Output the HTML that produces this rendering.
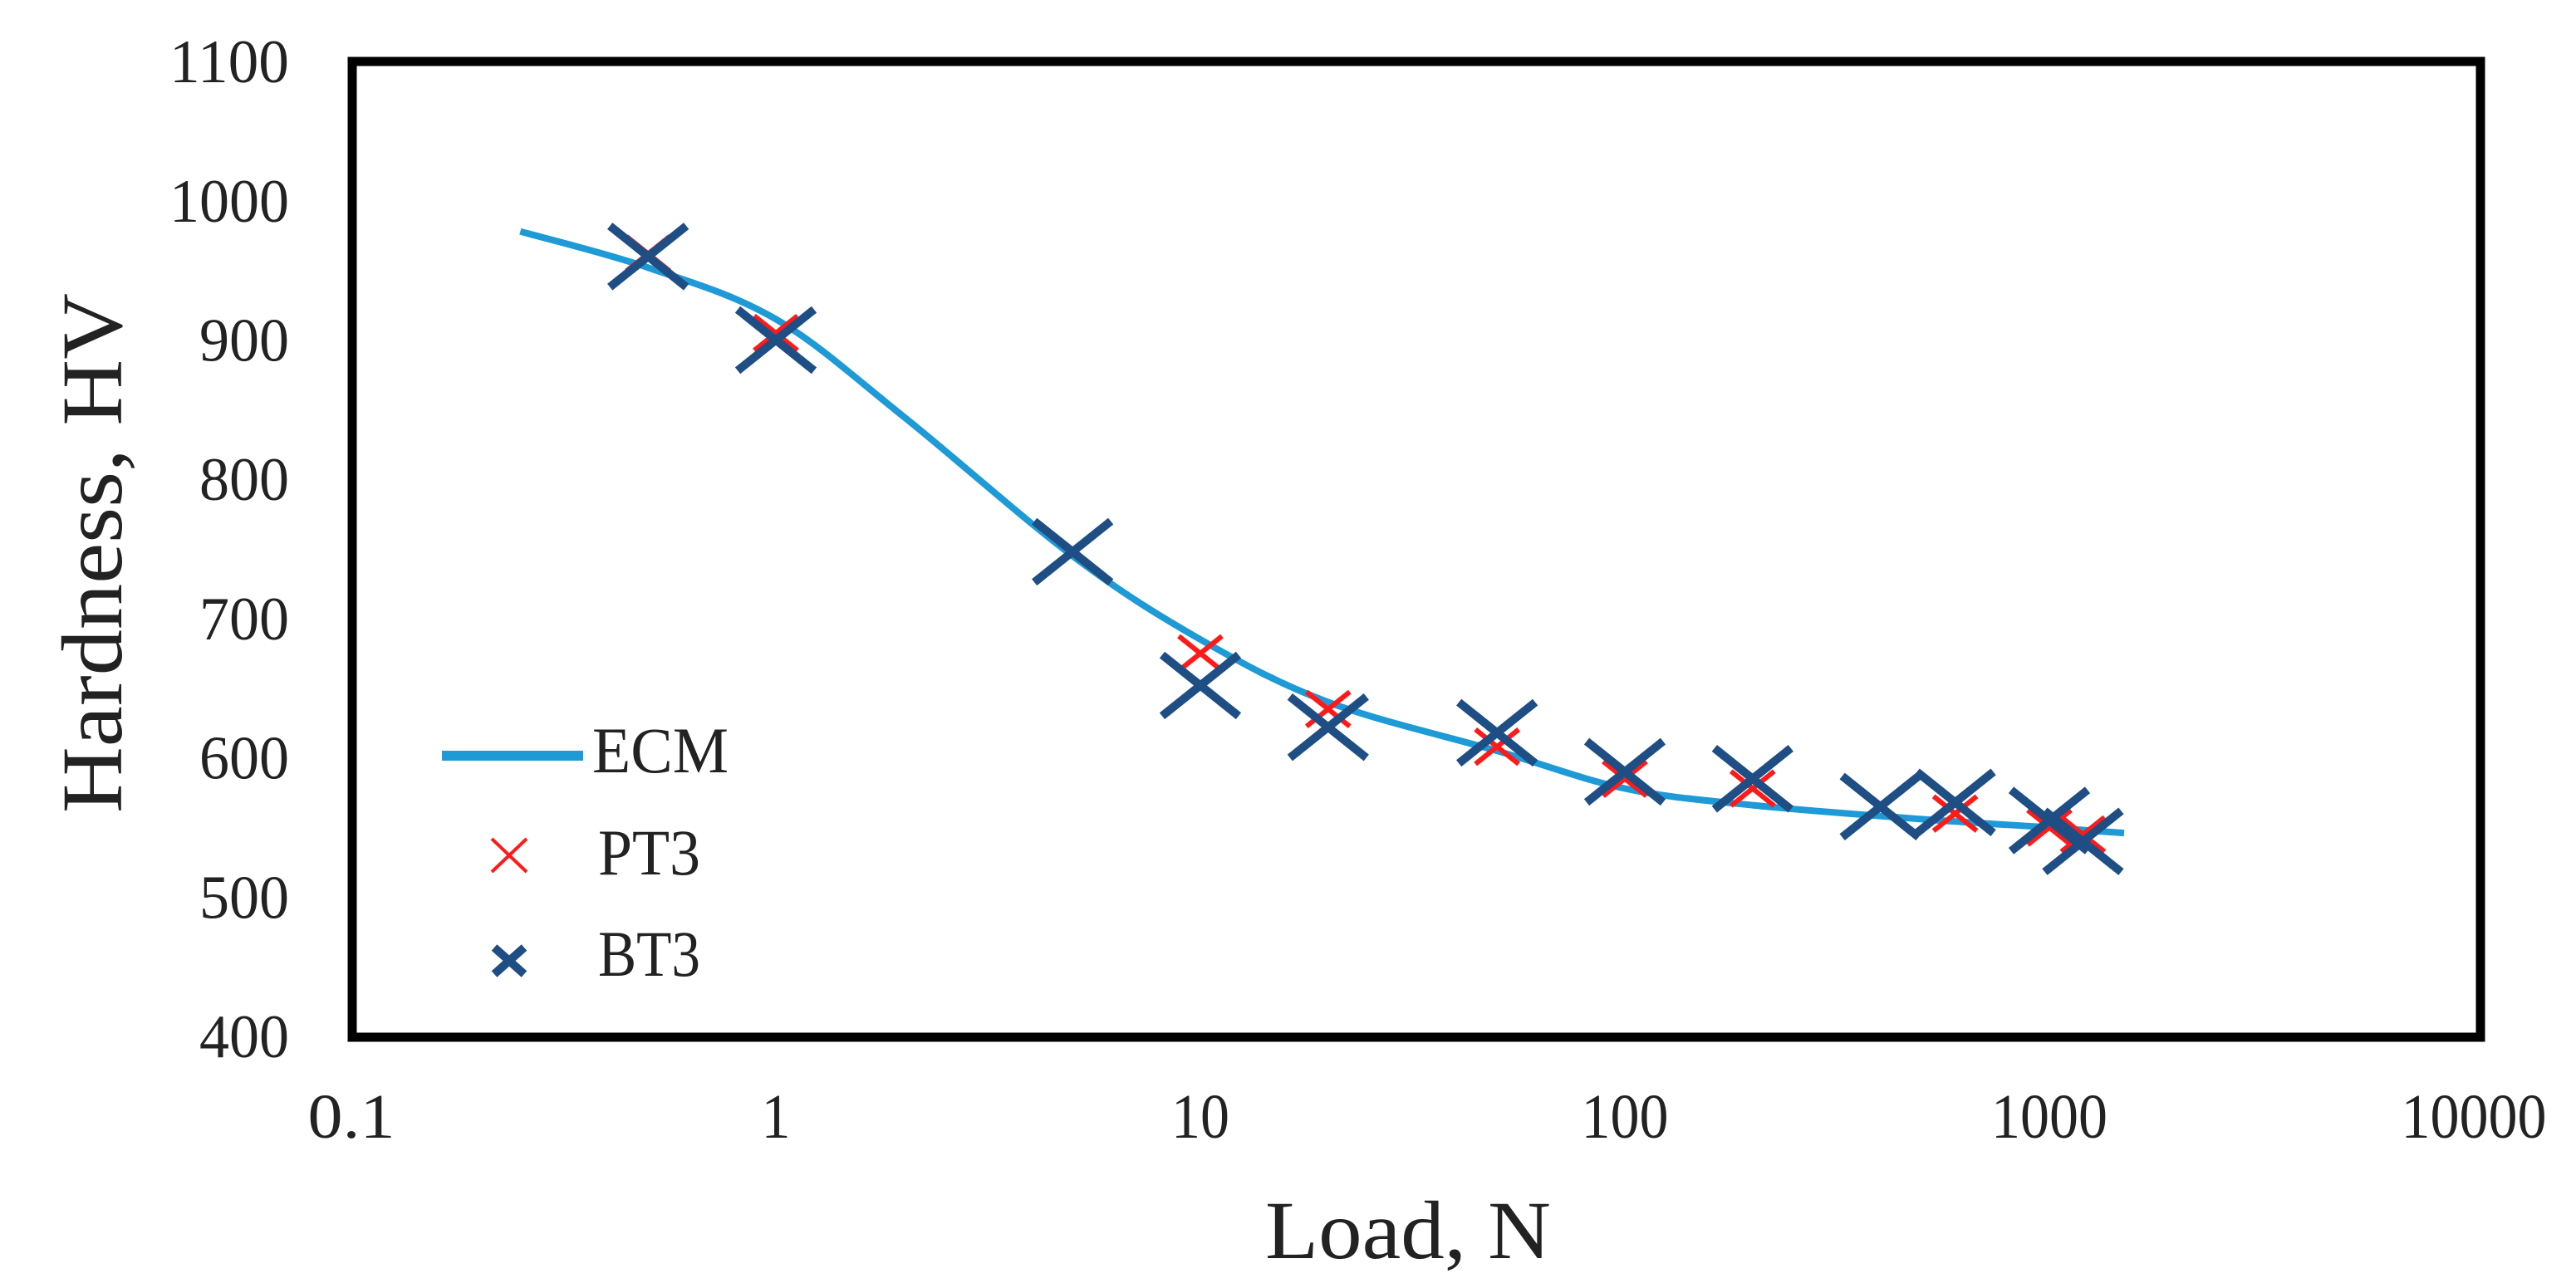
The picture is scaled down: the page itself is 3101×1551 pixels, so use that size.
<!DOCTYPE html>
<html><head><meta charset="utf-8"><style>
html,body{margin:0;padding:0;background:#fff;}
svg text{font-family:"Liberation Serif",serif;fill:#222;}
</style></head><body>
<svg id="chart" width="3101" height="1546" viewBox="0 0 3101 1546" xmlns="http://www.w3.org/2000/svg">
<g id="ticks"></g>
<g id="series"></g>
<rect x="424" y="74" width="2562" height="1175" fill="none" stroke="#000" stroke-width="11"/>
<text x="110" y="666" font-size="104" text-anchor="middle" textLength="626" lengthAdjust="spacingAndGlyphs" transform="rotate(-90 110 666)" dy="36">Hardness, HV</text>
<text x="1523" y="1515" font-size="100" textLength="344" lengthAdjust="spacingAndGlyphs">Load, N</text>
<g>
<line x1="532" y1="910" x2="702" y2="910" stroke="#1e9ad6" stroke-width="12"/>
<text x="713" y="930" font-size="78" textLength="164" lengthAdjust="spacingAndGlyphs">ECM</text>
<path d="M592 1010 L634 1050 M634 1010 L592 1050" stroke="#ff1a1a" stroke-width="4"/>
<text x="720" y="1053" font-size="78" textLength="123" lengthAdjust="spacingAndGlyphs">PT3</text>
<path d="M595 1141 L631 1173 M631 1141 L595 1173" stroke="#1f4e85" stroke-width="10"/>
<text x="720" y="1175" font-size="78" textLength="123" lengthAdjust="spacingAndGlyphs">BT3</text>
</g>
</svg>
<script>
const xTicks=[0.1,1,10,100,1000,10000];
const xTickLabels=["0.1","1","10","100","1000","10000"];
const yTicks=[400,500,600,700,800,900,1000,1100];
const ecmX=[0.25,0.5,1,2,5,10,20,50,100,200,500,1000,1500];
const ecmY=[978,952,915,845,745,685,640,605,578,566,556,550,546];
const pt3X=[0.5,1,5,10,20,50,100,200,400,600,1000,1200];
const pt3Y=[962,905,748,675,635,608,585,578,565,560,550,545];
const bt3X=[0.5,1,5,10,20,50,100,200,400,600,1000,1200];
const bt3Y=[960,900,748,652,622,618,590,585,565,568,555,540];
const NS="http://www.w3.org/2000/svg";
const X=v=>423+(Math.log10(v)+1)*511;
const Y=v=>1248-(v-400)*1.677;
const tg=document.getElementById('ticks'), sg=document.getElementById('series');
xTicks.forEach((t,i)=>{const e=document.createElementNS(NS,'text');
e.setAttribute('x',X(t));e.setAttribute('y',1370);e.setAttribute('font-size','76');e.setAttribute('text-anchor','middle');
e.setAttribute('textLength',String(xTickLabels[i].length*35));e.setAttribute('lengthAdjust','spacingAndGlyphs');


e.textContent=xTickLabels[i];tg.appendChild(e);});
yTicks.forEach(t=>{const e=document.createElementNS(NS,'text');
e.setAttribute('x',348);e.setAttribute('y',Y(t)+25);e.setAttribute('font-size','74');e.setAttribute('text-anchor','end');
e.setAttribute('textLength',String(String(t).length*36));e.setAttribute('lengthAdjust','spacingAndGlyphs');


e.textContent=t;tg.appendChild(e);});
const pts=ecmX.map((x,i)=>[X(x),Y(ecmY[i])]);
let d='M'+pts[0][0]+' '+pts[0][1];
for(let i=0;i<pts.length-1;i++){const p0=pts[Math.max(i-1,0)],p1=pts[i],p2=pts[i+1],p3=pts[Math.min(i+2,pts.length-1)];
d+=` C${p1[0]+(p2[0]-p0[0])/6} ${p1[1]+(p2[1]-p0[1])/6} ${p2[0]-(p3[0]-p1[0])/6} ${p2[1]-(p3[1]-p1[1])/6} ${p2[0]} ${p2[1]}`;}
const line=document.createElementNS(NS,'path');
line.setAttribute('d',d);line.setAttribute('fill','none');line.setAttribute('stroke','#1e9ad6');line.setAttribute('stroke-width','8');


sg.appendChild(line);
function cross(x,y,h,color,w,name){const e=document.createElementNS(NS,'path');
const cx=X(x),cy=Y(y);
e.setAttribute('d',`M${cx-h} ${cy-h*0.8} L${cx+h} ${cy+h*0.8} M${cx+h} ${cy-h*0.8} L${cx-h} ${cy+h*0.8}`);
e.setAttribute('stroke',color);e.setAttribute('stroke-width',w);


sg.appendChild(e);}
pt3X.forEach((x,i)=>cross(x,pt3Y[i],26,'#ff1a1a',6,'pt3-point'));
bt3X.forEach((x,i)=>cross(x,bt3Y[i],46,'#1f4e85',10,'bt3-point'));
</script>
</body></html>
